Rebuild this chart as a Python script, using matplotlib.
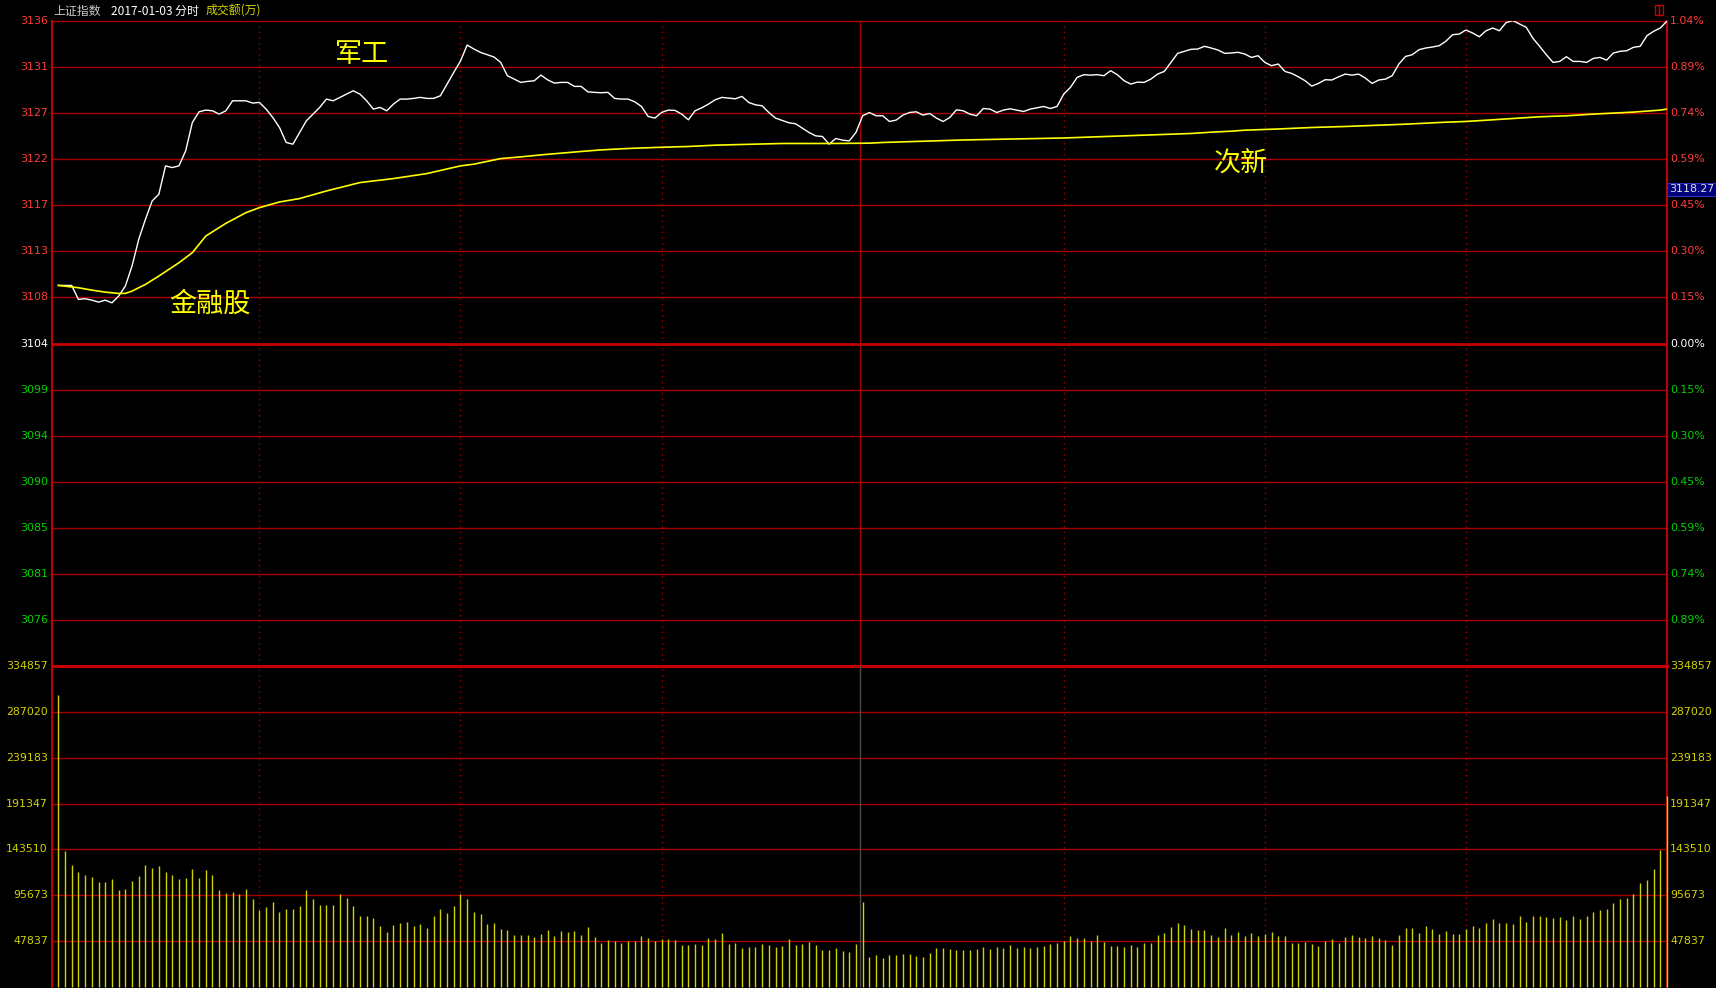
import matplotlib
matplotlib.use("Agg")
import matplotlib.pyplot as plt
from matplotlib.patches import Rectangle

# ---------------- data ----------------
pre_close = 3103.64
price_step = 4.609
vol_step = 47837

price_left_labels = ["3136", "3131", "3127", "3122", "3117", "3113", "3108", "3104",
                     "3099", "3094", "3090", "3085", "3081", "3076"]
price_right_labels = ["1.04%", "0.89%", "0.74%", "0.59%", "0.45%", "0.30%", "0.15%", "0.00%",
                      "0.15%", "0.30%", "0.45%", "0.59%", "0.74%", "0.89%"]
vol_labels = ["334857", "287020", "239183", "191347", "143510", "95673", "47837"]

price = [
    3109.45, 3109.45, 3109.45, 3108.05, 3108.12, 3107.98, 3107.78, 3107.98, 3107.71, 3108.38,
    3109.38, 3111.39, 3114.06, 3116.06, 3117.90, 3118.57, 3121.41, 3121.24, 3121.41, 3122.91,
    3125.75, 3126.82, 3126.99, 3126.92, 3126.59, 3126.92, 3127.92, 3127.92, 3127.92, 3127.69,
    3127.76, 3127.09, 3126.25, 3125.25, 3123.75, 3123.58, 3124.75, 3125.91, 3126.59, 3127.26,
    3128.09, 3127.92, 3128.26, 3128.59, 3128.92, 3128.59, 3127.92, 3127.09, 3127.26, 3126.92,
    3127.59, 3128.09, 3128.09, 3128.16, 3128.26, 3128.16, 3128.16, 3128.42, 3129.59, 3130.76,
    3131.90, 3133.50, 3133.10, 3132.76, 3132.53, 3132.30, 3131.76, 3130.43, 3130.09, 3129.76,
    3129.86, 3129.92, 3130.49, 3130.02, 3129.69, 3129.76, 3129.76, 3129.36, 3129.36, 3128.82,
    3128.76, 3128.73, 3128.76, 3128.16, 3128.09, 3128.09, 3127.82, 3127.35, 3126.35, 3126.19,
    3126.75, 3126.99, 3126.96, 3126.59, 3126.02, 3126.92, 3127.22, 3127.59, 3128.02, 3128.26,
    3128.19, 3128.12, 3128.36, 3127.75, 3127.52, 3127.42, 3126.75, 3126.19, 3125.95, 3125.72,
    3125.62, 3125.18, 3124.75, 3124.41, 3124.35, 3123.58, 3124.15, 3123.98, 3123.91, 3124.75,
    3126.42, 3126.75, 3126.42, 3126.42, 3125.85, 3125.99, 3126.49, 3126.75, 3126.82, 3126.49,
    3126.65, 3126.19, 3125.85, 3126.25, 3127.02, 3126.92, 3126.59, 3126.42, 3127.15, 3127.09,
    3126.75, 3126.99, 3127.12, 3126.99, 3126.85, 3127.09, 3127.22, 3127.35, 3127.15, 3127.35,
    3128.59, 3129.26, 3130.26, 3130.53, 3130.49, 3130.53, 3130.43, 3130.93, 3130.53, 3129.93,
    3129.59, 3129.79, 3129.76, 3130.09, 3130.59, 3130.86, 3131.76, 3132.67, 3132.87, 3133.07,
    3133.10, 3133.37, 3133.20, 3133.00, 3132.67, 3132.70, 3132.77, 3132.60, 3132.26, 3132.43,
    3131.76, 3131.43, 3131.60, 3130.86, 3130.66, 3130.32, 3129.93, 3129.39, 3129.66, 3130.03,
    3130.00, 3130.32, 3130.59, 3130.49, 3130.59, 3130.19, 3129.66, 3130.00, 3130.09, 3130.43,
    3131.60, 3132.36, 3132.53, 3133.03, 3133.20, 3133.30, 3133.43, 3133.87, 3134.53, 3134.60,
    3135.00, 3134.70, 3134.33, 3134.93, 3135.20, 3134.93, 3135.74, 3135.94, 3135.60, 3135.27,
    3134.17, 3133.37, 3132.53, 3131.76, 3131.86, 3132.33, 3131.86, 3131.86, 3131.76, 3132.16,
    3132.26, 3131.99, 3132.70, 3132.87, 3132.93, 3133.27, 3133.37, 3134.43, 3134.87, 3135.20,
    3135.90,
]

avg_minutes = [0, 3, 5, 7, 9, 10, 11, 12, 13, 15, 18, 20, 22, 25, 28, 30, 33, 36, 40, 45,
               50, 55, 60, 62, 66, 69, 72, 75, 78, 81, 85, 89, 94, 98, 102, 108, 115, 121,
               123, 135, 150, 169, 172, 175, 177, 182, 187, 192, 197, 201, 204, 207, 210,
               214, 217, 221, 225, 229, 232, 235, 237, 239, 240]
avg_price = [3109.45, 3109.22, 3108.98, 3108.78, 3108.65, 3108.65, 3108.88, 3109.22, 3109.55,
             3110.39, 3111.72, 3112.73, 3114.39, 3115.66, 3116.73, 3117.23, 3117.80, 3118.14,
             3118.90, 3119.74, 3120.14, 3120.64, 3121.41, 3121.58, 3122.14, 3122.31, 3122.51,
             3122.68, 3122.85, 3123.01, 3123.15, 3123.25, 3123.35, 3123.48, 3123.55, 3123.65,
             3123.65, 3123.68, 3123.75, 3124.00, 3124.20, 3124.65, 3124.78, 3124.88, 3124.98,
             3125.10, 3125.25, 3125.35, 3125.48, 3125.58, 3125.68, 3125.78, 3125.85, 3126.02,
             3126.15, 3126.32, 3126.42, 3126.59, 3126.69, 3126.79, 3126.89, 3126.99, 3127.09]

volume = [
    304700, 141400, 126900, 119600, 116500, 114400, 109200, 109200, 112300, 100900,
    101900, 110200, 115400, 126900, 123800, 125800, 119600, 116500, 112300, 113400,
    122700, 113700, 121700, 116500, 100900, 98100, 98800, 96700, 101900, 91500,
    80800, 83500, 88400, 78000, 81800, 81800, 84200, 100900, 91500, 85300,
    85300, 85300, 96700, 92500, 84200, 73800, 73800, 71700, 63400, 57200,
    64500, 66900, 67600, 63400, 65200, 62000, 73800, 81100, 77300, 84200,
    96700, 91500, 78300, 75900, 65500, 66900, 60300, 59300, 54100, 54100,
    54100, 52000, 55800, 59300, 53000, 58200, 57200, 58200, 54100, 62400,
    52000, 46100, 48900, 48200, 46100, 48200, 48200, 53000, 51600, 47500,
    49900, 49600, 48900, 43700, 43700, 44700, 43300, 50900, 49900, 56100,
    45100, 46100, 40900, 41600, 41600, 44700, 43700, 41600, 42600, 49900,
    43700, 44700, 47100, 43700, 38500, 38500, 40600, 37400, 36400, 45000,
    88400, 31500, 33300, 30200, 33300, 33300, 34300, 34300, 32200, 31200,
    35400, 40600, 40600, 39500, 38500, 38500, 38500, 39500, 41600, 39500,
    41600, 40600, 43300, 40600, 41600, 40600, 41600, 42600, 44700, 45800,
    47800, 52700, 50900, 50900, 47500, 54100, 47100, 42600, 42600, 41600,
    43700, 41600, 45800, 45800, 54100, 56100, 62400, 66500, 64500, 60300,
    59300, 59300, 54100, 52000, 61300, 54100, 57200, 53000, 56100, 53000,
    55100, 57200, 53000, 53000, 45800, 46300, 46800, 44700, 42600, 47800,
    49900, 45800, 52000, 54100, 52000, 50900, 53000, 50900, 48900, 43700,
    54100, 61300, 61300, 56100, 63400, 60300, 55100, 58200, 55100, 55100,
    60300, 63400, 61300, 66500, 70700, 66500, 66500, 65500, 73800, 67600,
    73800, 73800, 72800, 71700, 72800, 69700, 73800, 70700, 73800, 78000,
    80100, 81430, 87350, 91820, 92870, 96710, 108150, 111270, 122710, 142470,
    198940,
]

vline_minutes = [30, 60, 90, 150, 180, 210]
noon_minute = 120

# ---------------- style ----------------
W, H = 1716, 988
BG = "black"
GRID = "#a80000"
AXIS = "#c40000"
UP = "#ff3c3c"
DOWN = "#00d200"
VOLC = "#d2d200"
FONT = ["DejaVu Sans"]
CJK = ["Noto Sans CJK SC", "DejaVu Sans"]

fig = plt.figure(figsize=(W / 100, H / 100), dpi=100, facecolor=BG)

x_left, x_right = 52, 1667
y_top, y_mid, y_bot = 21, 666, 987
axp = fig.add_axes([x_left / W, 1 - y_mid / H, (x_right - x_left) / W, (y_mid - y_top) / H])
axv = fig.add_axes([x_left / W, 1 - y_bot / H, (x_right - x_left) / W, (y_bot - y_mid) / H])

n = len(price)
x0 = -(58.3 - x_left) / 6.704
for ax in (axp, axv):
    ax.set_facecolor(BG)
    ax.set_xlim(x0, n - 1)
    ax.set_xticks([])
    ax.set_yticks([])
    for s in ax.spines.values():
        s.set_visible(False)

axp.set_ylim(pre_close - 7 * price_step, pre_close + 7 * price_step)
axv.set_ylim(0, 7 * vol_step)

# horizontal grid lines (price)
for k in range(-6, 8):
    yv = pre_close + k * price_step
    if k == 0:
        axp.axhline(yv, color=AXIS, lw=2.0, zorder=1)
    else:
        axp.axhline(yv, color=GRID, lw=1.0, zorder=1, clip_on=False)
# horizontal grid lines (volume)
for k in range(1, 8):
    if k == 7:
        axv.axhline(k * vol_step, color=AXIS, lw=2.2, zorder=1, clip_on=False)
    else:
        axv.axhline(k * vol_step, color=GRID, lw=1.0, zorder=1)

# vertical lines
for ax in (axp, axv):
    for m in vline_minutes:
        ax.axvline(m, color=GRID, lw=1.0, ls=(0, (1, 3)), zorder=1)
    ax.axvline(x0, color=AXIS, lw=1.4, zorder=3, clip_on=False)
    ax.axvline(n - 1, color=AXIS, lw=1.4, zorder=1, clip_on=False)
axp.axvline(noon_minute - 0.4, color=GRID, lw=1.0, zorder=1)
axv.axvline(noon_minute - 0.4, color="#4a4a4a", lw=1.0, zorder=1)

# lines
minutes = list(range(n))
axp.plot(minutes, price, color="white", lw=1.0, zorder=4)
axp.plot(avg_minutes, avg_price, color="#ffff00", lw=1.2, zorder=4)

# volume bars
axv.vlines(minutes, 0, volume, color=VOLC, lw=1.0, zorder=4, clip_on=False)

# labels
tp = axp.get_yaxis_transform()
for k, (ll, rl) in enumerate(zip(price_left_labels, price_right_labels)):
    yv = pre_close + (7 - k) * price_step
    c = UP if k < 7 else ("white" if k == 7 else DOWN)
    axp.text(-4 / 1615, yv, ll, color=c, fontsize=7.9, family=FONT, ha="right", va="center",
             transform=tp)
    axp.text(1 + 3 / 1615, yv, rl, color=c, fontsize=7.9, family=FONT, ha="left", va="center",
             transform=tp)
tv = axv.get_yaxis_transform()
for k, lab in enumerate(vol_labels):
    yv = (7 - k) * vol_step
    axv.text(-4 / 1615, yv, lab, color=VOLC, fontsize=7.9, family=FONT, ha="right",
             va="center", transform=tv)
    axv.text(1 + 3 / 1615, yv, lab, color=VOLC, fontsize=7.9, family=FONT, ha="left",
             va="center", transform=tv)

# header
fig.text(53 / W, 1 - 11 / H, "上证指数", color="#c8c8c8", fontsize=8.6, family=CJK,
         ha="left", va="center")
fig.text(111 / W, 1 - 11 / H, "2017-01-03 分时", color="white", fontsize=8.6, family=CJK,
         ha="left", va="center")
fig.text(206 / W, 1 - 11 / H, "成交额(万)", color="#d2d200", fontsize=8.6, family=CJK,
         ha="left", va="center")

# top-right icon
fig.patches.append(Rectangle((1655 / W, 1 - 15 / H), 8 / W, 10 / H, transform=fig.transFigure,
                             fill=False, edgecolor=AXIS, lw=1.0))
fig.lines.append(plt.Line2D([1659 / W, 1659 / W], [1 - 15 / H, 1 - 5 / H],
                            transform=fig.transFigure, color=AXIS, lw=1.0))

# current price box
fig.text(1669 / W, 1 - 189.5 / H, "3118.27", color="#e0e0e0", fontsize=7.9, family=FONT,
         ha="left", va="center",
         bbox=dict(boxstyle="square,pad=0.18", facecolor="#00007c", edgecolor="#3030c0", lw=0.8))

# annotations
fig.text(362 / W, 1 - 54 / H, "军工", color="#ffff00", fontsize=19.5, family=CJK,
         ha="center", va="center")
fig.text(210 / W, 1 - 304 / H, "金融股", color="#ffff00", fontsize=19.5, family=CJK,
         ha="center", va="center")
fig.text(1241 / W, 1 - 164 / H, "次新", color="#ffff00", fontsize=19.5, family=CJK,
         ha="center", va="center")

fig.savefig("out.png", dpi=100, facecolor=BG)
